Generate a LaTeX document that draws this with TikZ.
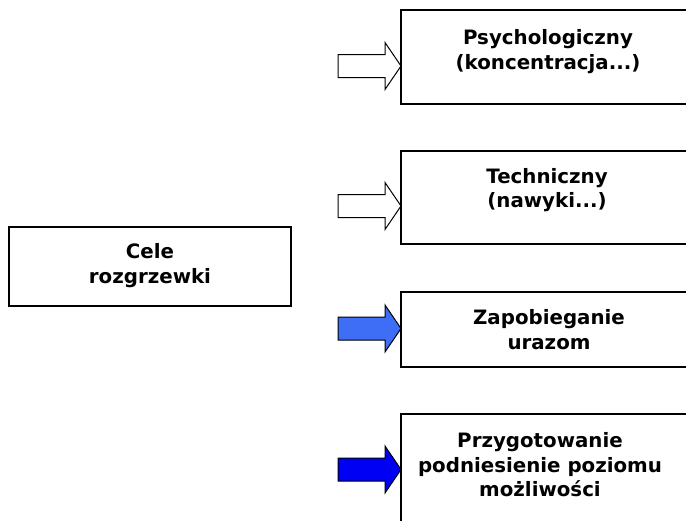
\documentclass[tikz,border=0pt]{standalone}
\usepackage{fontspec}
\setmainfont{DejaVu Sans}
\begin{document}
\begin{tikzpicture}[x=1pt,y=-1pt,
  goalbox/.style={draw=black,line width=1.6pt,fill=white},
  goaltext/.style={font=\bfseries\fontsize{19.8}{24.5}\selectfont,align=center,inner sep=0pt},
  hollowarrow/.style={draw=black,line width=1pt,fill=white},
  midarrow/.style={draw=black,line width=1pt,fill=arrowmid},
  deeparrow/.style={draw=black,line width=1pt,fill=arrowdeep}]
\definecolor{arrowmid}{HTML}{3D6EF5}
\definecolor{arrowdeep}{HTML}{0000F5}
\useasboundingbox (0,0) rectangle (686,520);
\clip (0,0) rectangle (686,520);

% block arrow pointing right, tip at the given point
\newcommand{\blockarrow}[2]{%
  \path[#1] (#2) -- ++(-16,-23.5) -- ++(0,12) -- ++(-47,0) -- ++(0,23) -- ++(47,0) -- ++(0,12) -- cycle;}

% target boxes (they run past the right edge)
\draw[goalbox] (401,10) rectangle (700,104);
\coordinate (t1) at (401,66);
\draw[goalbox] (401,151) rectangle (700,244);
\coordinate (t2) at (401,206);
\draw[goalbox] (401,292) rectangle (700,367);
\coordinate (t3) at (401,328.5);
\draw[goalbox] (401,414) rectangle (700,540);
\coordinate (t4) at (401,469.5);

% source box
\draw[goalbox] (9,227) rectangle (291,306);

\node[goaltext] (txt0) at (150,265.5) {Cele\\rozgrzewki};
\node[goaltext] (txt1) at (548,51.5) {Psychologiczny\\(koncentracja...)};
\node[goaltext] (txt2) at (547,190) {Techniczny\\(nawyki...)};
\node[goaltext] (txt3) at (549,329.5) {Zapobieganie\\urazom};
\node[goaltext] (txt4) at (540,465) {Przygotowanie\\podniesienie poziomu\\możliwości};

\blockarrow{hollowarrow}{t1}
\blockarrow{hollowarrow}{t2}
\blockarrow{midarrow}{t3}
\blockarrow{deeparrow}{t4}
\end{tikzpicture}
\end{document}
